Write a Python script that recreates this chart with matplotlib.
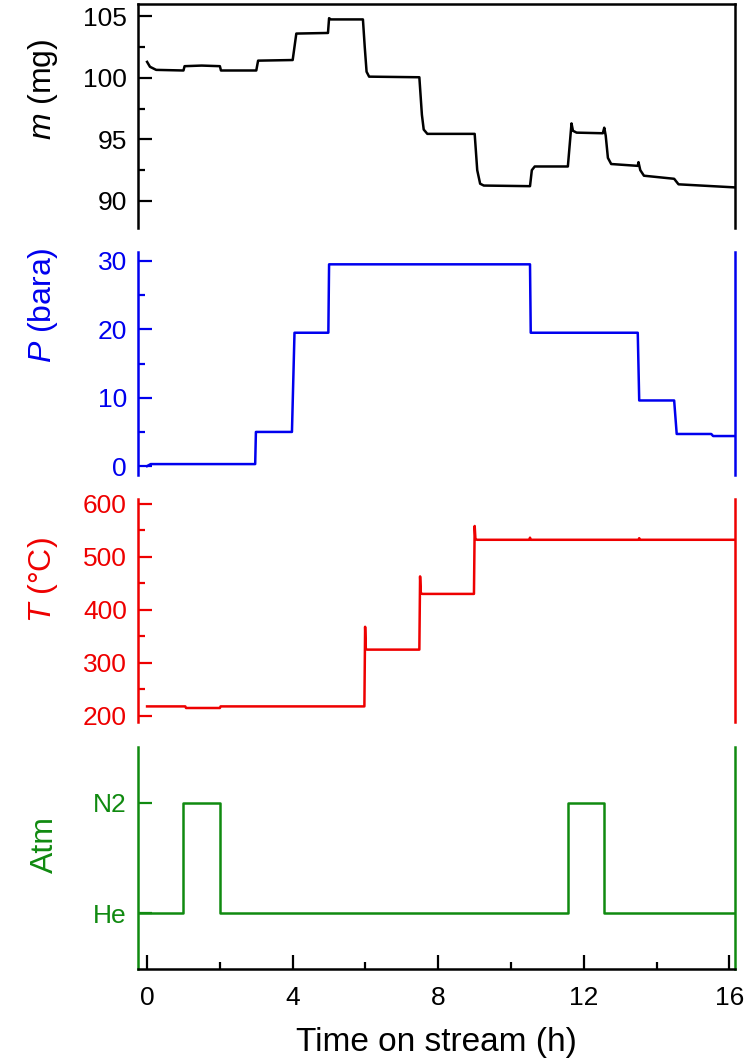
import matplotlib
matplotlib.use("Agg")
import matplotlib.pyplot as plt
from matplotlib.ticker import MultipleLocator, FixedLocator

plt.rcParams["font.family"] = ["Liberation Sans", "DejaVu Sans"]
plt.rcParams["mathtext.fontset"] = "custom"
plt.rcParams["mathtext.it"] = "Liberation Sans:italic"
plt.rcParams["mathtext.rm"] = "Liberation Sans"

# sample mass (mg)
m_time = [0.0, 0.08, 0.25, 1.0, 1.03, 1.5, 2.0, 2.03, 3.0, 3.05, 4.0, 4.1,
          4.97, 5.0, 5.05, 5.93, 5.98, 6.03, 6.1, 7.48, 7.55, 7.6, 7.7,
          9.0, 9.07, 9.15, 9.25, 10.52, 10.57, 10.65, 11.56, 11.66, 11.7,
          11.8, 12.52, 12.56, 12.6, 12.66, 12.75, 13.48, 13.5, 13.55, 13.65,
          14.48, 14.6, 16.15]
m_vals = [101.3, 100.9, 100.65, 100.6, 100.95, 101.0, 100.95, 100.6, 100.6,
          101.4, 101.45, 103.6, 103.65, 104.85, 104.75, 104.75, 102.5, 100.5,
          100.1, 100.05, 97.0, 95.8, 95.45, 95.45, 92.5, 91.4, 91.25, 91.2,
          92.5, 92.8, 92.8, 96.3, 95.7, 95.55, 95.5, 95.95, 95.3, 93.5, 93.0,
          92.85, 93.15, 92.5, 92.05, 91.8, 91.35, 91.1]

# pressure (bara)
p_time = [0.0, 0.1, 2.97, 2.99, 3.98, 4.05, 4.98, 5.0, 10.52, 10.54,
          13.48, 13.52, 14.48, 14.55, 15.5, 15.55, 16.15]
p_vals = [0.0, 0.3, 0.3, 5.0, 5.0, 19.5, 19.5, 29.5, 29.5, 19.5,
          19.5, 9.6, 9.6, 4.7, 4.7, 4.4, 4.4]

# temperature (degC)
t_time = [0.0, 1.05, 1.07, 2.0, 2.02, 5.97, 5.99, 6.01, 6.05, 7.48, 7.5,
          7.52, 7.56, 8.98, 9.0, 9.02, 9.06, 10.5, 10.52, 10.54, 13.5,
          13.52, 13.54, 16.15]
t_vals = [218, 218, 215, 215, 218, 218, 368, 326, 325, 325, 463, 432, 430,
          430, 558, 534, 532, 532, 536, 532, 532, 535, 532, 532]

# gas atmosphere: 0 = He, 1 = N2
atm_time = [-0.25, 1.0, 2.0, 11.56, 12.55, 16.15]
atm_vals = [0, 1, 0, 1, 0, 0]
atm_labels = ["He", "N2"]

black = "black"
blue = "#0000ee"
red = "#ee0000"
green = "#108a10"

fig = plt.figure(figsize=(7.45, 10.62), dpi=100)
left, width = 0.1852, 0.8013
ax_m = fig.add_axes([left, 0.7853, width, 0.2109])
ax_p = fig.add_axes([left, 0.5527, width, 0.2100])
ax_t = fig.add_axes([left, 0.3202, width, 0.2100])
ax_a = fig.add_axes([left, 0.0876, width, 0.2090])

lw = 1.8
ax_m.plot(m_time, m_vals, color=black, lw=lw)
ax_p.plot(p_time, p_vals, color=blue, lw=lw)
ax_t.plot(t_time, t_vals, color=red, lw=lw)
ax_a.plot(atm_time, atm_vals, color=green, lw=lw, drawstyle="steps-post")

ax_m.set_ylim(87.8, 106)
ax_p.set_ylim(-1.3, 31.3)
ax_t.set_ylim(188.7, 609)
ax_a.set_ylim(-0.5, 1.5)

ax_m.yaxis.set_major_locator(MultipleLocator(5))
ax_m.yaxis.set_minor_locator(MultipleLocator(2.5))
ax_p.yaxis.set_major_locator(MultipleLocator(10))
ax_p.yaxis.set_minor_locator(MultipleLocator(5))
ax_t.yaxis.set_major_locator(MultipleLocator(100))
ax_t.yaxis.set_minor_locator(MultipleLocator(50))
ax_a.yaxis.set_major_locator(FixedLocator([0, 1]))
ax_a.set_yticklabels(atm_labels)

labels = ["$m$ (mg)", "$P$ (bara)", "$T$ (°C)", "Atm"]
colors = [black, blue, red, green]
label_y = [0.62, 0.76, 0.637, 0.563]
for ax, lab, c, ly in zip([ax_m, ax_p, ax_t, ax_a], labels, colors, label_y):
    ax.set_xlim(-0.25, 16.15)
    for side in ["top", "bottom"]:
        ax.spines[side].set_visible(False)
    for side in ["left", "right"]:
        ax.spines[side].set_color(c)
        ax.spines[side].set_linewidth(1.8)
    ax.tick_params(axis="y", which="major", direction="in", length=10,
                   width=1.6, color=c, labelcolor=c, labelsize=19, pad=8,
                   right=False)
    ax.tick_params(axis="y", which="minor", direction="in", length=5,
                   width=1.6, color=c, right=False)
    ax.tick_params(axis="x", which="both", bottom=False, top=False,
                   labelbottom=False)
    ax.set_ylabel(lab, color=c, fontsize=23)
    ax.yaxis.set_label_coords(-0.13, ly)

ax_m.spines["top"].set_visible(True)
ax_m.spines["top"].set_linewidth(1.8)

ax_a.spines["bottom"].set_visible(True)
ax_a.spines["bottom"].set_color(black)
ax_a.spines["bottom"].set_linewidth(1.8)
ax_a.xaxis.set_major_locator(MultipleLocator(4))
ax_a.xaxis.set_minor_locator(MultipleLocator(2))
ax_a.tick_params(axis="x", which="major", bottom=True, labelbottom=True,
                 direction="in", length=10, width=1.6, labelsize=19, pad=12)
ax_a.tick_params(axis="x", which="minor", bottom=True, direction="in",
                 length=5, width=1.6)
ax_a.set_xlabel("Time on stream (h)", fontsize=24)
ax_a.xaxis.set_label_coords(0.5, -0.262)

fig.savefig("out.png", dpi=100)
